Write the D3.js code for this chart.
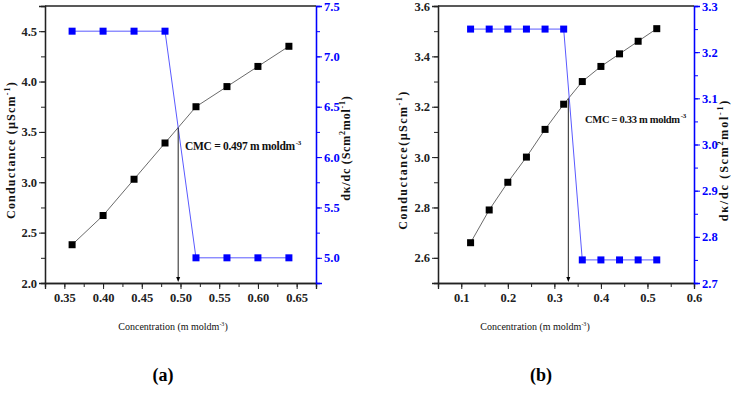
<!DOCTYPE html>
<html><head><meta charset="utf-8">
<script src="https://cdn.jsdelivr.net/npm/d3@7"></script>
<style>
body{margin:0;background:#fff;}
svg text{font-family:"Liberation Serif","Times New Roman","DejaVu Serif",serif !important;}
</style></head>
<body><svg id="c" width="731" height="402" style="display:block"></svg>
<script>
// Panel (a)
const concA = [0.36,0.40,0.44,0.48,0.52,0.56,0.60,0.64];
const condA = [2.38,2.67,3.03,3.39,3.75,3.95,4.15,4.35];
const derivA = [7.25,7.25,7.25,7.25,5.0,5.0,5.0,5.0];
const cmcA = 0.497;
const xTicksA = [0.35,0.40,0.45,0.50,0.55,0.60,0.65];
const yTicksA = [2.0,2.5,3.0,3.5,4.0,4.5];
const y2TicksA = [5.0,5.5,6.0,6.5,7.0,7.5];
// Panel (b)
const concB = [0.12,0.16,0.20,0.24,0.28,0.32,0.36,0.40,0.44,0.48,0.52];
const condB = [2.66,2.79,2.90,3.00,3.11,3.21,3.30,3.36,3.41,3.46,3.51];
const derivB = [3.25,3.25,3.25,3.25,3.25,3.25,2.75,2.75,2.75,2.75,2.75];
const cmcB = 0.33;
const xTicksB = [0.1,0.2,0.3,0.4,0.5,0.6];
const yTicksB = [2.6,2.8,3.0,3.2,3.4,3.6];
const y2TicksB = [2.7,2.8,2.9,3.0,3.1,3.2,3.3];

const svg = d3.select("#c");
const BLUE = "#0000ff";

function panel(cfg){
  const g = svg.append("g");
  const x = d3.scaleLinear().domain(cfg.xDom).range([cfg.l, cfg.r]);
  const y = d3.scaleLinear().domain(cfg.yDom).range([cfg.b, cfg.t]);
  const y2 = d3.scaleLinear().domain(cfg.y2Dom).range([cfg.b, cfg.t]);

  const minor = (sc, step) => { const d = sc.domain(); const out=[]; for(let v=Math.ceil(d[0]/step-1e-6)*step; v<=d[1]+1e-9; v+=step) out.push(+v.toFixed(4)); return out; };

  const xb = g.append("g").attr("transform",`translate(0,${cfg.b})`);
  xb.call(d3.axisBottom(x).tickValues(minor(x,cfg.xMinor)).tickSize(4).tickFormat(""));
  xb.append("g").call(d3.axisBottom(x).tickValues(cfg.xTicks).tickSize(6).tickFormat(cfg.xFmt));
  const yl = g.append("g").attr("transform",`translate(${cfg.l},0)`);
  yl.call(d3.axisLeft(y).tickValues(minor(y,cfg.yMinor)).tickSize(4).tickFormat(""));
  yl.append("g").call(d3.axisLeft(y).tickValues(cfg.yTicks).tickSize(6).tickFormat(cfg.yFmt));
  const yr = g.append("g").attr("transform",`translate(${cfg.r},0)`);
  yr.call(d3.axisRight(y2).tickValues(minor(y2,cfg.y2Minor)).tickSize(4).tickFormat(""));
  yr.append("g").call(d3.axisRight(y2).tickValues(cfg.y2Ticks).tickSize(6).tickFormat(cfg.y2Fmt));
  g.selectAll(".domain").attr("stroke-width",1.3).attr("stroke","#222");
  g.selectAll(".tick text").attr("font-size",12.5).attr("font-weight","bold").attr("fill","#222");
  g.selectAll(".tick line").attr("stroke","#222");
  yr.selectAll(".domain, .tick line").attr("stroke",BLUE);
  yr.selectAll(".tick text").attr("fill",BLUE).attr("x",8);
  yl.selectAll(".tick text").attr("x",-8);
  xb.selectAll(".tick text").attr("y",10);
  g.append("line").attr("x1",cfg.l).attr("x2",cfg.r).attr("y1",cfg.t).attr("y2",cfg.t).attr("stroke","#222").attr("stroke-width",1.3);

  // black series
  const lineB = d3.line().x((d,i)=>x(cfg.conc[i])).y(d=>y(d));
  g.append("path").datum(cfg.cond).attr("d",lineB).attr("fill","none").attr("stroke","#444").attr("stroke-width",0.8);
  g.selectAll(".sb").data(cfg.cond).join("rect").attr("x",(d,i)=>x(cfg.conc[i])-3.5).attr("y",d=>y(d)-3.5).attr("width",7).attr("height",7).attr("fill","#000");
  // blue series
  const lineU = d3.line().x((d,i)=>x(cfg.conc[i])).y(d=>y2(d));
  g.append("path").datum(cfg.deriv).attr("d",lineU).attr("fill","none").attr("stroke","#5a5aff").attr("stroke-width",1);
  g.selectAll(".su").data(cfg.deriv).join("rect").attr("x",(d,i)=>x(cfg.conc[i])-3.5).attr("y",d=>y2(d)-3.5).attr("width",7).attr("height",7).attr("fill",BLUE);

  // CMC vertical arrow
  const i0 = cfg.conc.findIndex(c=>c>cfg.cmc)-1;
  const t = (cfg.cmc-cfg.conc[i0])/(cfg.conc[i0+1]-cfg.conc[i0]);
  const yc = cfg.cond[i0]+t*(cfg.cond[i0+1]-cfg.cond[i0]);
  const xc = x(cfg.cmc);
  g.append("line").attr("x1",xc).attr("x2",xc).attr("y1",y(yc)).attr("y2",cfg.b-4).attr("stroke","#222").attr("stroke-width",1);
  g.append("path").attr("d",`M${xc-2},${cfg.b-6}L${xc+2},${cfg.b-6}L${xc},${cfg.b-1}Z`).attr("fill","#000");

  // CMC text
  const ct = g.append("text").attr("x",cfg.cmcX).attr("y",cfg.cmcY).attr("font-size",cfg.cmcSize).attr("font-weight","bold").attr("fill","#111").attr("letter-spacing",-0.3);
  ct.append("tspan").text(cfg.cmcLabel);
  ct.append("tspan").attr("dx",1).attr("dy",-5).attr("font-size",7).text("-3");

  // x label
  const xl = g.append("text").attr("x",cfg.xLabX).attr("y",cfg.xLabY).attr("text-anchor","middle").attr("font-size",10).attr("fill","#111");
  xl.append("tspan").text("Concentration (m moldm");
  xl.append("tspan").attr("dy",-4).attr("font-size",6).text("-3");
  xl.append("tspan").attr("dy",4).text(")");

  // left y label
  const ll = g.append("text").attr("transform",`translate(${cfg.lLabX},${cfg.lLabY}) rotate(-90)`).attr("text-anchor","middle").attr("font-size",12).attr("font-weight","bold").attr("fill","#111").attr("letter-spacing",cfg.lLS);
  ll.append("tspan").text(cfg.lLab);
  ll.append("tspan").attr("dy",-5).attr("font-size",8).text("-1");
  ll.append("tspan").attr("dy",5).text(")");

  // right y label
  const rl = g.append("text").attr("transform",`translate(${cfg.rLabX},${cfg.rLabY}) rotate(-90)`).attr("text-anchor","middle").attr("font-size",12).attr("font-weight","bold").attr("fill","#111").attr("letter-spacing",cfg.rLS);
  rl.append("tspan").text("dκ/dc (Scm");
  rl.append("tspan").attr("dy",-5).attr("font-size",8).text("2");
  rl.append("tspan").attr("dy",5).text("mol");
  rl.append("tspan").attr("dy",-5).attr("font-size",8).text("-1");
  rl.append("tspan").attr("dy",5).text(")");

  g.append("text").attr("x",cfg.pX).attr("y",381).attr("text-anchor","middle").attr("font-size",18).attr("font-weight","bold").attr("fill","#000").text(cfg.pLab);
}

panel({l:45,r:316,t:6,b:283,xDom:[0.325,0.675],yDom:[2.0,4.75],y2Dom:[4.75,7.5],
  xTicks:xTicksA,yTicks:yTicksA,y2Ticks:y2TicksA,xMinor:0.025,yMinor:0.25,y2Minor:0.25,
  xFmt:d3.format(".2f"),yFmt:d3.format(".1f"),y2Fmt:d3.format(".1f"),
  conc:concA,cond:condA,deriv:derivA,cmc:cmcA,cmcX:185,cmcY:150,cmcSize:11.5,cmcLabel:"CMC = 0.497 m moldm",
  xLabX:173,xLabY:330,lLabX:15,lLabY:150,lLS:1.2,lLab:"Conductance (µScm",
  rLabX:350,rLabY:148,rLS:0.8,pX:163,pLab:"(a)"});

panel({l:438,r:694,t:6,b:283,xDom:[0.05,0.6],yDom:[2.5,3.6],y2Dom:[2.7,3.3],
  xTicks:xTicksB,yTicks:yTicksB,y2Ticks:y2TicksB,xMinor:0.05,yMinor:0.1,y2Minor:0.05,
  xFmt:d3.format(".1f"),yFmt:d3.format(".1f"),y2Fmt:d3.format(".1f"),
  conc:concB,cond:condB,deriv:derivB,cmc:cmcB,cmcX:585,cmcY:123,cmcSize:10.5,cmcLabel:"CMC = 0.33 m moldm",
  xLabX:535,xLabY:330,lLabX:407,lLabY:160,lLS:1.5,lLab:"Conductance(µScm",
  rLabX:728,rLabY:160,rLS:1.8,pX:541,pLab:"(b)"});
</script></body></html>
